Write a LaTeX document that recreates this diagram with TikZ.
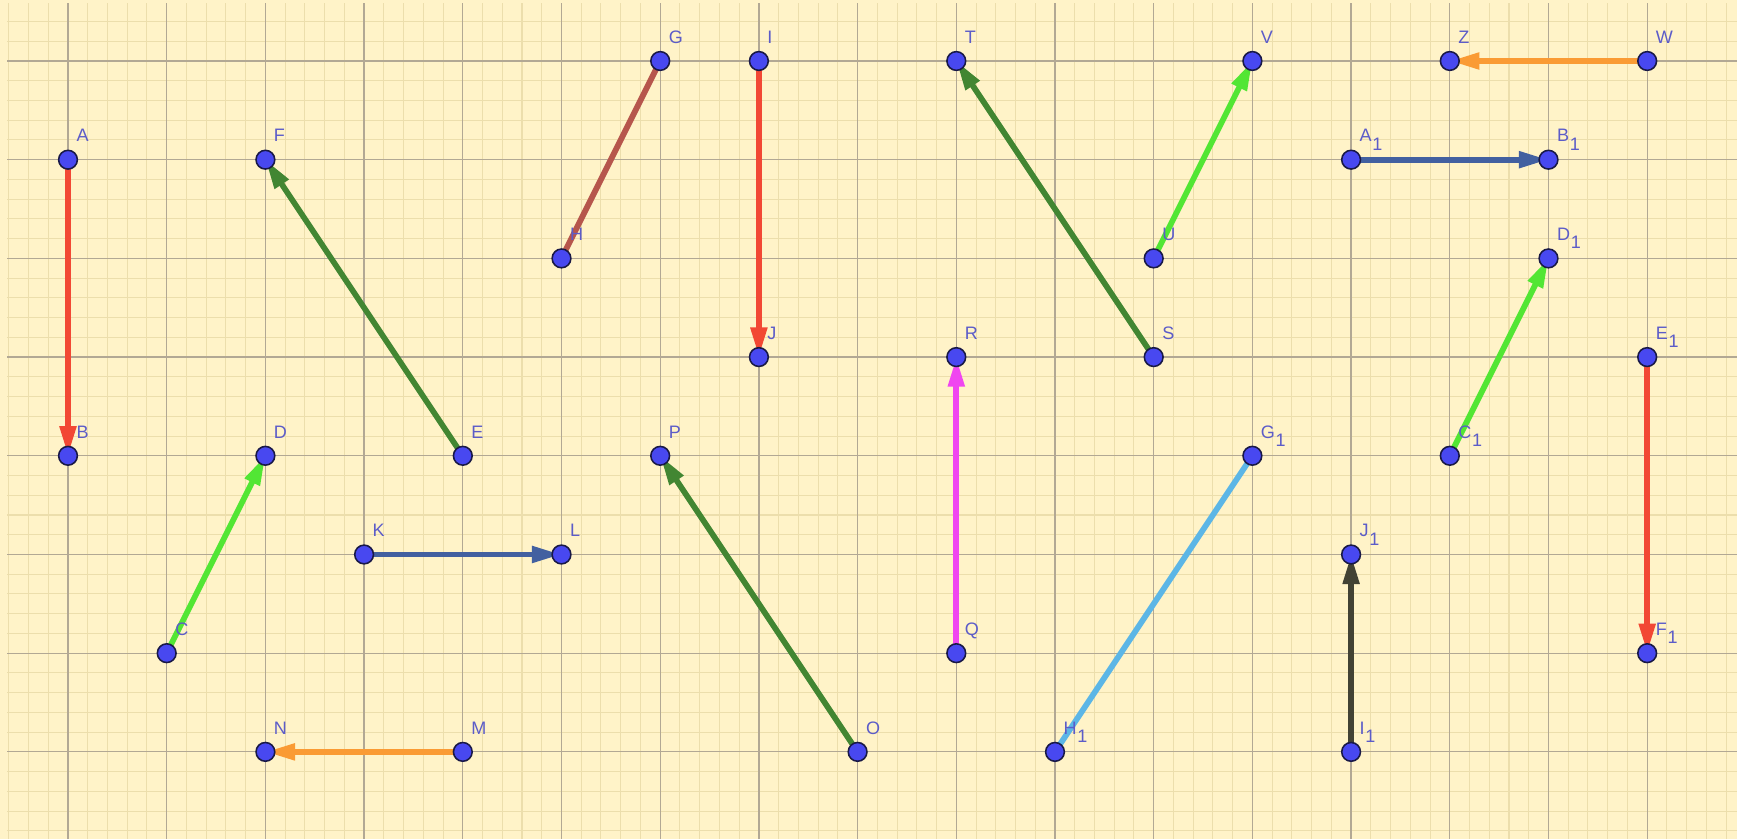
\documentclass[tikz,border=0pt]{standalone}
\usepackage{fontspec}
\setmainfont{Liberation Sans}
\usetikzlibrary{arrows.meta}
\definecolor{bg}{RGB}{255,243,200}
\definecolor{majorgrid}{RGB}{178,168,148}
\definecolor{minorgrid}{RGB}{236,222,172}
\definecolor{ptfill}{RGB}{72,72,240}
\definecolor{ptline}{RGB}{25,25,70}
\definecolor{labcol}{RGB}{92,92,200}
\definecolor{cred}{RGB}{242,72,52}
\definecolor{clgreen}{RGB}{82,230,52}
\definecolor{cdgreen}{RGB}{66,134,50}
\definecolor{cbrown}{RGB}{182,86,76}
\definecolor{cblue}{RGB}{66,96,160}
\definecolor{corange}{RGB}{250,155,52}
\definecolor{cmagenta}{RGB}{240,70,240}
\definecolor{clblue}{RGB}{92,182,230}
\definecolor{cdgray}{RGB}{66,66,52}
\pgfdeclarelayer{back}
\pgfsetlayers{back,main}
\newcommand\sub[1]{\kern0.2pt\raisebox{-2.4pt}{#1}}
\tikzset{
  pt/.style={circle,draw=ptline,line width=0.45pt,fill=ptfill,minimum size=0.19cm,inner sep=0pt},
  lab/.style={anchor=base west,text=labcol,inner sep=0pt,font=\fontsize{5.2pt}{5.5pt}\selectfont},
  vec/.style={line width=1.65pt,-{Triangle[length=0.3cm,width=0.16cm]}},
  seg/.style={line width=1.65pt},
}
\newcommand\mkpt[4]{\node[pt] (#1) at (#2,#3) {}; \node[lab] (#1lab) at (#2+0.08,#3+0.18) {#4};}
\begin{document}
\begin{tikzpicture}[x=1cm,y=1cm]
\useasboundingbox (-0.689,0.618) rectangle (16.91,-7.883);
\begin{pgfonlayer}{back}
\fill[bg] (-0.689,0.618) rectangle (16.91,-7.883);
\draw[minorgrid,line width=0.3pt] (-0.618,-7.883) grid[step=0.2] (16.91,0.588);
\draw[majorgrid,line width=0.35pt] (-0.618,-7.883) grid[step=1] (16.91,0.588);
\end{pgfonlayer}
% points
\mkpt{A}{0}{-1}{A}
\mkpt{B}{0}{-4}{B}
\mkpt{C}{1}{-6}{C}
\mkpt{D}{2}{-4}{D}
\mkpt{E}{4}{-4}{E}
\mkpt{F}{2}{-1}{F}
\mkpt{G}{6}{0}{G}
\mkpt{H}{5}{-2}{H}
\mkpt{I}{7}{0}{I}
\mkpt{J}{7}{-3}{J}
\mkpt{K}{3}{-5}{K}
\mkpt{L}{5}{-5}{L}
\mkpt{M}{4}{-7}{M}
\mkpt{N}{2}{-7}{N}
\mkpt{O}{8}{-7}{O}
\mkpt{P}{6}{-4}{P}
\mkpt{Q}{9}{-6}{Q}
\mkpt{R}{9}{-3}{R}
\mkpt{S}{11}{-3}{S}
\mkpt{T}{9}{0}{T}
\mkpt{U}{11}{-2}{U}
\mkpt{V}{12}{0}{V}
\mkpt{W}{16}{0}{W}
\mkpt{Z}{14}{0}{Z}
\mkpt{A1}{13}{-1}{A\sub{1}}
\mkpt{B1}{15}{-1}{B\sub{1}}
\mkpt{C1}{14}{-4}{C\sub{1}}
\mkpt{D1}{15}{-2}{D\sub{1}}
\mkpt{E1}{16}{-3}{E\sub{1}}
\mkpt{F1}{16}{-6}{F\sub{1}}
\mkpt{G1}{12}{-4}{G\sub{1}}
\mkpt{H1}{10}{-7}{H\sub{1}}
\mkpt{I1}{13}{-7}{I\sub{1}}
\mkpt{J1}{13}{-5}{J\sub{1}}
% connectors
\begin{pgfonlayer}{back}
\draw[vec,cred] (A.center) -- (B.center);
\draw[vec,clgreen] (C.center) -- (D.center);
\draw[vec,cdgreen] (E.center) -- (F.center);
\draw[seg,cbrown] (H.center) -- (G.center);
\draw[vec,cred] (I.center) -- (J.center);
\draw[vec,cblue] (K.center) -- (L.center);
\draw[vec,corange] (M.center) -- (N.center);
\draw[vec,cdgreen] (O.center) -- (P.center);
\draw[vec,cmagenta] (Q.center) -- (R.center);
\draw[vec,cdgreen] (S.center) -- (T.center);
\draw[vec,clgreen] (U.center) -- (V.center);
\draw[vec,corange] (W.center) -- (Z.center);
\draw[vec,cblue] (A1.center) -- (B1.center);
\draw[vec,clgreen] (C1.center) -- (D1.center);
\draw[vec,cred] (E1.center) -- (F1.center);
\draw[seg,clblue] (H1.center) -- (G1.center);
\draw[vec,cdgray] (I1.center) -- (J1.center);
\end{pgfonlayer}
\end{tikzpicture}
\end{document}
